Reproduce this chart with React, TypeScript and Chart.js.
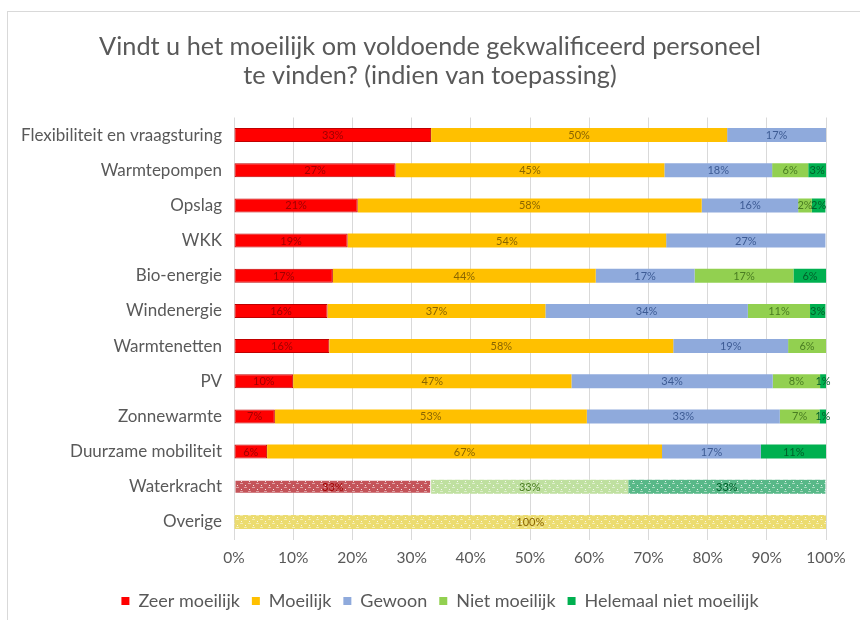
import React, { useEffect, useRef } from "react";
import { Chart, registerables } from "chart.js";

Chart.register(...registerables);

const categories = [
  "Flexibiliteit en vraagsturing",
  "Warmtepompen",
  "Opslag",
  "WKK",
  "Bio-energie",
  "Windenergie",
  "Warmtenetten",
  "PV",
  "Zonnewarmte",
  "Duurzame mobiliteit",
  "Waterkracht",
  "Overige",
];

const seriesNames = ["Zeer moeilijk", "Moeilijk", "Gewoon", "Niet moeilijk", "Helemaal niet moeilijk"];

const zeerMoeilijk = [33.3, 27.3, 20.9, 19.2, 16.7, 15.8, 16.1, 10, 6.9, 5.6, 33.3, 0];
const moeilijk = [50, 45.4, 58.1, 53.8, 44.4, 36.8, 58.1, 47, 52.7, 66.7, 0, 100];
const gewoon = [16.7, 18.2, 16.3, 26.9, 16.7, 34.2, 19.4, 34, 32.6, 16.7, 0, 0];
const nietMoeilijk = [0, 6.1, 2.3, 0, 16.7, 10.5, 6.4, 8, 6.7, 0, 33.3, 0];
const helemaalNiet = [0, 3.0, 2.3, 0, 5.6, 2.6, 0, 1, 1.1, 11.1, 33.3, 0];

const xTicks = [0, 10, 20, 30, 40, 50, 60, 70, 80, 90, 100];

const titleLines = ["Vindt u het moeilijk om voldoende gekwalificeerd personeel", "te vinden? (indien van toepassing)"];

// Rows drawn with a dotted pattern (Waterkracht, Overige)
const patternRows = [10, 11];

const FONT = "Lato, 'Open Sans', sans-serif";
const GREY = "#595959";

const solidColors = ["#ff0000", "#ffc000", "#8faadc", "#92d050", "#00b050"];
const patternBases = ["#c4545a", "#ecdc70", "#8faadc", "#bfe0a0", "#58b888"];
const labelColors = ["#a00000", "#8a6500", "#3d5b94", "#4a7d22", "#005f2a"];

function makePattern(base: string): CanvasPattern | string {
  const c = document.createElement("canvas");
  c.width = 8;
  c.height = 8;
  const g = c.getContext("2d");
  if (!g) return base;
  g.fillStyle = base;
  g.fillRect(0, 0, 8, 8);
  g.fillStyle = "rgba(255,255,255,0.85)";
  g.fillRect(1, 1, 1, 1);
  g.fillRect(5, 5, 1, 1);
  g.fillStyle = "rgba(255,255,255,0.45)";
  g.fillRect(0, 3, 3, 1);
  g.fillRect(4, 7, 3, 1);
  const p = g.createPattern(c, "repeat");
  return p || base;
}

export default function App() {
  const ref = useRef<HTMLCanvasElement | null>(null);

  useEffect(() => {
    if (!ref.current) return;
    const values = [zeerMoeilijk, moeilijk, gewoon, nietMoeilijk, helemaalNiet];

    const datasets = values.map((vals, i) => {
      const pat = makePattern(patternBases[i]);
      const bg = vals.map((_, j) => (patternRows.includes(j) ? pat : solidColors[i]));
      return {
        label: seriesNames[i],
        data: vals,
        backgroundColor: bg as any,
        borderColor: i === 0 ? vals.map((_, j) => (patternRows.includes(j) ? "rgba(0,0,0,0)" : "#c00000")) : "rgba(0,0,0,0)",
        borderWidth: i === 0 ? 1 : 0,
        borderSkipped: false,
        barPercentage: 0.4,
        categoryPercentage: 1,
      };
    });

    const framePlugin = {
      id: "frame",
      beforeDraw(chart: any) {
        const ctx = chart.ctx;
        ctx.save();
        ctx.fillStyle = "#ffffff";
        ctx.fillRect(0, 0, chart.width, chart.height);
        ctx.strokeStyle = "#d9d9d9";
        ctx.lineWidth = 1;
        ctx.strokeRect(7.5, 11.5, 1000, 1000);
        ctx.fillStyle = GREY;
        ctx.font = `25.3px ${FONT}`;
        ctx.textAlign = "center";
        ctx.textBaseline = "middle";
        ctx.fillText(titleLines[0], 430, 47);
        ctx.fillText(titleLines[1], 430, 76);
        ctx.restore();
      },
    };

    const labelPlugin = {
      id: "barLabels",
      afterDatasetsDraw(chart: any) {
        const ctx = chart.ctx;
        ctx.save();
        ctx.font = `11px ${FONT}`;
        ctx.textAlign = "center";
        ctx.textBaseline = "middle";
        chart.data.datasets.forEach((ds: any, i: number) => {
          const meta = chart.getDatasetMeta(i);
          meta.data.forEach((el: any, j: number) => {
            const v = ds.data[j];
            if (!v) return;
            ctx.fillStyle = labelColors[i];
            ctx.fillText(Math.round(v) + "%", (el.x + el.base) / 2, el.y + 0.5);
          });
        });
        ctx.restore();
      },
    };

    const chart = new Chart(ref.current, {
      type: "bar",
      data: { labels: categories, datasets: datasets as any },
      plugins: [framePlugin, labelPlugin],
      options: {
        indexAxis: "y",
        responsive: false,
        animation: false,
        layout: { padding: { top: 117.5, right: 0, bottom: 0, left: 20 } },
        scales: {
          x: {
            stacked: true,
            min: 0,
            max: 100,
            afterBuildTicks(scale: any) {
              scale.ticks = xTicks.map((v) => ({ value: v }));
            },
            afterFit(scale: any) {
              scale.height = 40.5;
            },
            ticks: {
              padding: 9,
              color: GREY,
              font: { family: FONT, size: 15.5 },
              callback: (v: any) => v + "%",
            },
            grid: { color: "#d9d9d9", drawTicks: false },
            border: { display: false },
          },
          y: {
            stacked: true,
            afterFit(scale: any) {
              scale.width = 214;
            },
            ticks: {
              padding: 12,
              color: GREY,
              font: { family: FONT, size: 17 },
            },
            grid: { display: false, drawTicks: false },
            border: { display: false },
          },
          yRight: {
            type: "category",
            position: "right",
            afterFit(scale: any) {
              scale.width = 34;
            },
            ticks: { display: false },
            grid: { display: false, drawTicks: false },
            border: { display: false },
          },
        },
        plugins: {
          title: { display: false },
          tooltip: { enabled: false },
          legend: {
            position: "bottom",
            labels: {
              boxWidth: 8,
              boxHeight: 8,
              padding: 12,
              color: GREY,
              font: { family: FONT, size: 18 },
              generateLabels: () =>
                seriesNames.map((n, i) => ({
                  text: n,
                  fillStyle: solidColors[i],
                  strokeStyle: solidColors[i],
                  lineWidth: 0,
                  fontColor: GREY,
                  datasetIndex: i,
                  hidden: false,
                })),
            },
          },
        },
      } as any,
    });
    return () => chart.destroy();
  }, []);

  return (
    <div style={{ position: "absolute", left: 0, top: 0, width: 860, height: 620 }}>
      <canvas ref={ref} width={860} height={620} style={{ width: 860, height: 620 }} />
    </div>
  );
}
